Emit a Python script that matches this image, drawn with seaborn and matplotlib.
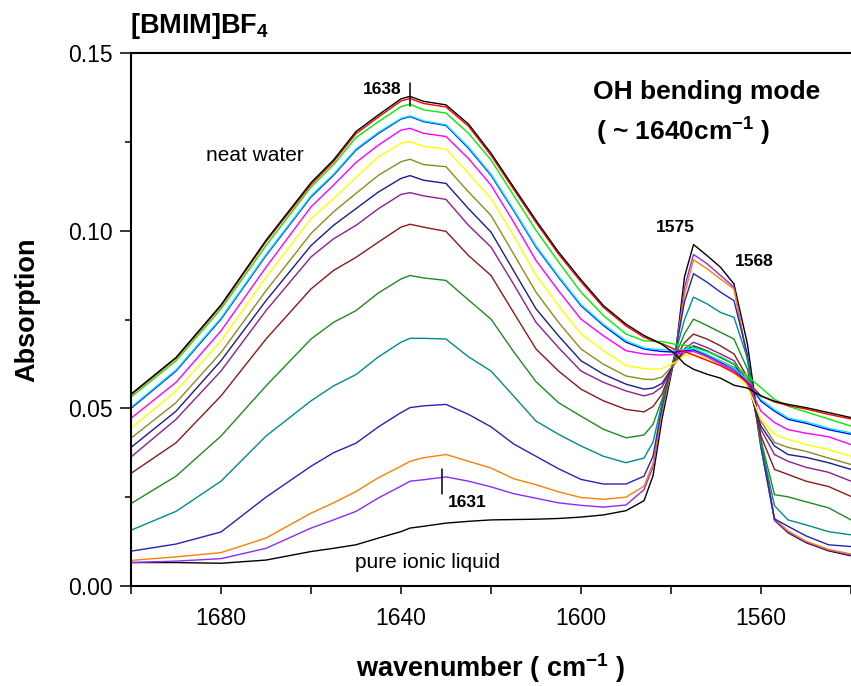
import numpy as np
import pandas as pd
import matplotlib
matplotlib.use("Agg")
import matplotlib.pyplot as plt
import seaborn as sns

# ---- data: absorption spectra of [BMIM]BF4 / water mixtures -------------
wavenumber = [1700, 1690, 1680, 1670, 1660, 1655, 1650, 1645, 1640, 1638, 1635, 1630, 1625,
              1620, 1615, 1610, 1605, 1600, 1595, 1590, 1586, 1584, 1582, 1579, 1577,
              1575, 1572, 1569, 1566, 1563, 1560, 1557, 1554, 1550, 1545, 1540]

neat_water = [0.0540, 0.0643, 0.0791, 0.0973, 0.1135, 0.1199, 0.1279, 0.1326, 0.1371, 0.1378, 0.1364, 0.1354, 0.1300,
              0.1218, 0.1123, 0.1029, 0.0940, 0.0862, 0.0789, 0.0737, 0.0705, 0.0693, 0.0680, 0.0652, 0.0625,
              0.0610, 0.0596, 0.0585, 0.0565, 0.0557, 0.0535, 0.0520, 0.0511, 0.0502, 0.0488, 0.0474]
mix_red = [0.0538, 0.0641, 0.0788, 0.0969, 0.1130, 0.1194, 0.1273, 0.1320, 0.1365, 0.1372, 0.1358, 0.1348, 0.1294,
           0.1212, 0.1117, 0.1023, 0.0934, 0.0856, 0.0784, 0.0732, 0.0700, 0.0690, 0.0682, 0.0665, 0.0660,
           0.0650, 0.0635, 0.0620, 0.0600, 0.0575, 0.0535, 0.0518, 0.0508, 0.0498, 0.0483, 0.0470]
mix_lime = [0.0532, 0.0634, 0.0780, 0.0958, 0.1123, 0.1186, 0.1262, 0.1307, 0.1349, 0.1356, 0.1340, 0.1331, 0.1274,
            0.1199, 0.1100, 0.1001, 0.0912, 0.0827, 0.0761, 0.0709, 0.0690, 0.0689, 0.0688, 0.0680, 0.0678,
            0.0672, 0.0660, 0.0645, 0.0625, 0.0590, 0.0558, 0.0525, 0.0506, 0.0490, 0.0470, 0.0450]
mix_cyan = [0.0503, 0.0608, 0.0754, 0.0933, 0.1098, 0.1159, 0.1230, 0.1277, 0.1316, 0.1323, 0.1309, 0.1298, 0.1235,
            0.1159, 0.1060, 0.0957, 0.0872, 0.0792, 0.0736, 0.0690, 0.0670, 0.0667, 0.0665, 0.0663, 0.0665,
            0.0668, 0.0652, 0.0633, 0.0612, 0.0580, 0.0525, 0.0496, 0.0473, 0.0462, 0.0444, 0.0431]
mix_blue = [0.0500, 0.0605, 0.0751, 0.0930, 0.1095, 0.1156, 0.1227, 0.1274, 0.1314, 0.1321, 0.1307, 0.1296, 0.1232,
            0.1156, 0.1057, 0.0954, 0.0869, 0.0789, 0.0733, 0.0686, 0.0667, 0.0663, 0.0660, 0.0658, 0.0662,
            0.0665, 0.0650, 0.0630, 0.0610, 0.0575, 0.0520, 0.0492, 0.0469, 0.0458, 0.0440, 0.0427]
mix_magenta = [0.0472, 0.0573, 0.0718, 0.0897, 0.1067, 0.1128, 0.1192, 0.1241, 0.1283, 0.1288, 0.1274, 0.1265, 0.1203,
               0.1128, 0.1025, 0.0916, 0.0831, 0.0751, 0.0704, 0.0662, 0.0653, 0.0651, 0.0650, 0.0652, 0.0658,
               0.0660, 0.0645, 0.0625, 0.0605, 0.0570, 0.0492, 0.0460, 0.0440, 0.0430, 0.0420, 0.0398]
mix_yellow = [0.0444, 0.0549, 0.0690, 0.0869, 0.1034, 0.1090, 0.1150, 0.1208, 0.1246, 0.1251, 0.1237, 0.1230, 0.1161,
              0.1090, 0.0987, 0.0874, 0.0789, 0.0709, 0.0662, 0.0620, 0.0612, 0.0610, 0.0612, 0.0630, 0.0648,
              0.0652, 0.0640, 0.0622, 0.0600, 0.0560, 0.0469, 0.0427, 0.0412, 0.0398, 0.0384, 0.0365]
mix_olive = [0.0416, 0.0516, 0.0657, 0.0831, 0.0992, 0.1053, 0.1105, 0.1156, 0.1194, 0.1201, 0.1186, 0.1180, 0.1109,
             0.1043, 0.0935, 0.0827, 0.0742, 0.0667, 0.0624, 0.0591, 0.0582, 0.0581, 0.0588, 0.0628, 0.0655,
             0.0665, 0.0648, 0.0634, 0.0615, 0.0568, 0.0464, 0.0404, 0.0390, 0.0379, 0.0360, 0.0342]
mix_navy = [0.0390, 0.0492, 0.0634, 0.0803, 0.0958, 0.1015, 0.1062, 0.1109, 0.1147, 0.1155, 0.1142, 0.1133, 0.1062,
            0.0996, 0.0888, 0.0780, 0.0704, 0.0634, 0.0596, 0.0568, 0.0554, 0.0557, 0.0570, 0.0630, 0.0662,
            0.0676, 0.0662, 0.0643, 0.0624, 0.0570, 0.0450, 0.0394, 0.0370, 0.0362, 0.0347, 0.0328]
mix_purple = [0.0363, 0.0469, 0.0605, 0.0775, 0.0926, 0.0977, 0.1015, 0.1062, 0.1102, 0.1107, 0.1098, 0.1088, 0.1015,
              0.0954, 0.0850, 0.0742, 0.0671, 0.0605, 0.0573, 0.0549, 0.0535, 0.0542, 0.0560, 0.0632, 0.0668,
              0.0686, 0.0671, 0.0653, 0.0634, 0.0577, 0.0440, 0.0370, 0.0351, 0.0334, 0.0320, 0.0295]
mix_maroon = [0.0317, 0.0403, 0.0535, 0.0695, 0.0836, 0.0888, 0.0925, 0.0968, 0.1010, 0.1018, 0.1010, 0.0998, 0.0930,
              0.0874, 0.0770, 0.0667, 0.0605, 0.0554, 0.0521, 0.0497, 0.0490, 0.0505, 0.0540, 0.0640, 0.0685,
              0.0709, 0.0695, 0.0676, 0.0653, 0.0587, 0.0422, 0.0328, 0.0314, 0.0295, 0.0280, 0.0252]
mix_green = [0.0232, 0.0309, 0.0422, 0.0563, 0.0695, 0.0742, 0.0775, 0.0825, 0.0864, 0.0874, 0.0867, 0.0860, 0.0805,
             0.0751, 0.0660, 0.0575, 0.0516, 0.0478, 0.0441, 0.0417, 0.0425, 0.0455, 0.0525, 0.0650, 0.0710,
             0.0751, 0.0733, 0.0714, 0.0695, 0.0610, 0.0410, 0.0257, 0.0251, 0.0237, 0.0220, 0.0186]
mix_teal = [0.0157, 0.0210, 0.0295, 0.0422, 0.0521, 0.0563, 0.0595, 0.0645, 0.0686, 0.0697, 0.0697, 0.0695, 0.0645,
            0.0605, 0.0535, 0.0464, 0.0427, 0.0394, 0.0365, 0.0347, 0.0360, 0.0405, 0.0515, 0.0655, 0.0750,
            0.0813, 0.0794, 0.0770, 0.0756, 0.0640, 0.0400, 0.0226, 0.0186, 0.0172, 0.0153, 0.0144]
mix_darkblue = [0.0098, 0.0118, 0.0152, 0.0250, 0.0337, 0.0375, 0.0402, 0.0448, 0.0488, 0.0502, 0.0507, 0.0511, 0.0483,
                0.0448, 0.0400, 0.0365, 0.0330, 0.0300, 0.0287, 0.0287, 0.0309, 0.0365, 0.0505, 0.0660, 0.0800,
                0.0879, 0.0855, 0.0827, 0.0803, 0.0650, 0.0390, 0.0189, 0.0168, 0.0141, 0.0116, 0.0111]
mix_orange = [0.0072, 0.0082, 0.0094, 0.0135, 0.0205, 0.0234, 0.0266, 0.0305, 0.0337, 0.0351, 0.0361, 0.0370, 0.0351,
              0.0332, 0.0302, 0.0285, 0.0265, 0.0249, 0.0244, 0.0250, 0.0281, 0.0345, 0.0495, 0.0658, 0.0820,
              0.0918, 0.0893, 0.0864, 0.0836, 0.0640, 0.0390, 0.0190, 0.0155, 0.0126, 0.0103, 0.0090]
mix_violet = [0.0066, 0.0070, 0.0077, 0.0106, 0.0163, 0.0186, 0.0210, 0.0248, 0.0281, 0.0295, 0.0299, 0.0307, 0.0295,
              0.0279, 0.0260, 0.0247, 0.0234, 0.0227, 0.0222, 0.0228, 0.0271, 0.0335, 0.0490, 0.0656, 0.0840,
              0.0933, 0.0907, 0.0874, 0.0841, 0.0635, 0.0390, 0.0185, 0.0152, 0.0124, 0.0101, 0.0087]
pure_ionic_liquid = [0.0066, 0.0066, 0.0064, 0.0073, 0.0097, 0.0106, 0.0116, 0.0135, 0.0153, 0.0163, 0.0168, 0.0177, 0.0182,
                     0.0186, 0.0187, 0.0188, 0.0190, 0.0194, 0.0200, 0.0212, 0.0240, 0.0310, 0.0470, 0.0655, 0.0870,
                     0.0961, 0.0930, 0.0897, 0.0850, 0.0680, 0.0410, 0.0185, 0.0150, 0.0122, 0.0099, 0.0085]

series = [pure_ionic_liquid, mix_violet, mix_orange, mix_darkblue, mix_teal, mix_green,
          mix_maroon, mix_purple, mix_navy, mix_olive, mix_yellow, mix_magenta,
          mix_blue, mix_cyan, mix_lime, mix_red, neat_water]
sample_names = ["pure IL", "violet", "orange", "darkblue", "teal", "green", "maroon",
                "purple", "navy", "olive", "yellow", "magenta", "blue", "cyan",
                "lime", "red", "neat water"]
line_colors = ["#000000", "#8C2BFF", "#FF8000", "#2424B8", "#008C8C", "#1E8C1E",
               "#8B1A1A", "#8E1E96", "#1C1C8C", "#8C8C1E", "#FFFF00", "#FF00FF",
               "#0000FF", "#00E8FF", "#00F000", "#FF0000", "#000000"]

y_ticks = [0.00, 0.05, 0.10, 0.15]
y_tick_labels = ["0.00", "0.05", "0.10", "0.15"]
x_ticks = [1680, 1640, 1600, 1560]

# ---- long-form table for seaborn --------------------------------------
df = pd.DataFrame({
    "wavenumber": np.tile(wavenumber, len(series)),
    "absorption": np.concatenate([np.asarray(s) for s in series]),
    "sample": np.repeat(sample_names, len(wavenumber)),
})

# ---- style ------------------------------------------------------------
sns.set_style("ticks")
plt.rcParams["font.family"] = ["Liberation Sans", "DejaVu Sans"]
plt.rcParams["mathtext.fontset"] = "custom"
plt.rcParams["mathtext.rm"] = "Liberation Sans"
plt.rcParams["mathtext.bf"] = "Liberation Sans:bold"
plt.rcParams["mathtext.it"] = "Liberation Sans:italic"
for key in ("text.color", "axes.labelcolor", "xtick.color", "ytick.color",
            "axes.edgecolor"):
    plt.rcParams[key] = "black"

W_PX, H_PX = 851, 686
fig = plt.figure(figsize=(W_PX / 100, H_PX / 100), dpi=100)
left, right, top, bottom = 131, 851, 53, 586
ax = fig.add_axes([left / W_PX, 1 - bottom / H_PX,
                   (right - left) / W_PX, (bottom - top) / H_PX])

sns.lineplot(data=df, x="wavenumber", y="absorption", hue="sample",
             hue_order=sample_names, palette=line_colors, sort=False,
             estimator=None, legend=False, linewidth=1.0, ax=ax)

ax.set_xlim(1700, 1540)
ax.set_ylim(0, 0.15)
ax.set_xticks(x_ticks)
ax.set_xticks([1700, 1660, 1620, 1580, 1540], minor=True)
ax.set_yticks(y_ticks)
ax.set_yticklabels(y_tick_labels)
ax.set_yticks([0.025, 0.075, 0.125], minor=True)

for side in ("left", "bottom", "top"):
    ax.spines[side].set_linewidth(1.5)
    ax.spines[side].set_color("black")
ax.spines["right"].set_visible(False)

ax.tick_params(axis="both", which="both", direction="out", width=1.1,
               colors="black", labelsize=16.5, top=False, right=False)
ax.tick_params(axis="y", which="major", length=8, pad=5)
ax.tick_params(axis="y", which="minor", length=4)
ax.tick_params(axis="x", which="major", length=6, pad=9)
ax.tick_params(axis="x", which="minor", length=6)

ax.set_xlabel(r"wavenumber ( cm$^{\mathbf{-1}}$ )", fontsize=19.5,
              fontweight="bold", color="black")
ax.xaxis.label.set_va("center")
ax.xaxis.set_label_coords(0.5, (bottom - 668) / (bottom - top))
ax.set_ylabel("Absorption", fontsize=19.5, fontweight="bold", color="black")
ax.yaxis.label.set_va("center")
ax.yaxis.set_label_coords((27 - left) / (right - left), (bottom - 310) / (bottom - top))

# ---- annotations ------------------------------------------------------
def fig_xy(px, py):
    return px / W_PX, 1 - py / H_PX

fig.text(*fig_xy(130, 33), r"[BMIM]BF$_{\mathbf{4}}$", fontsize=19.5,
         fontweight="bold", ha="left", va="baseline", color="black")
fig.text(*fig_xy(593, 99), "OH bending mode", fontsize=19,
         fontweight="bold", ha="left", va="baseline", color="black")
fig.text(*fig_xy(596, 141), r"( ~ 1640cm$^{\mathbf{-1}}$ )", fontsize=19,
         fontweight="bold", ha="left", va="baseline", color="black")

ax.text(1640.0, 0.1384, "1638", fontsize=12.5, fontweight="bold",
        ha="right", va="baseline", color="black")
ax.plot([1638, 1638], [0.1350, 0.1415], color="black", lw=1.1)
ax.text(1625.2, 0.0223, "1631", fontsize=12.5, fontweight="bold",
        ha="center", va="baseline", color="black")
ax.plot([1631, 1631], [0.0260, 0.0328], color="black", lw=1.1)
ax.text(1579.1, 0.0997, "1575", fontsize=12.5, fontweight="bold",
        ha="center", va="baseline", color="black")
ax.text(1561.4, 0.0901, "1568", fontsize=12.5, fontweight="bold",
        ha="center", va="baseline", color="black")
ax.text(1683.3, 0.1195, "neat water", fontsize=15, ha="left",
        va="baseline", color="black")
ax.text(1650.2, 0.0050, "pure ionic liquid", fontsize=15, ha="left",
        va="baseline", color="black")

fig.savefig("out.png", dpi=100)
